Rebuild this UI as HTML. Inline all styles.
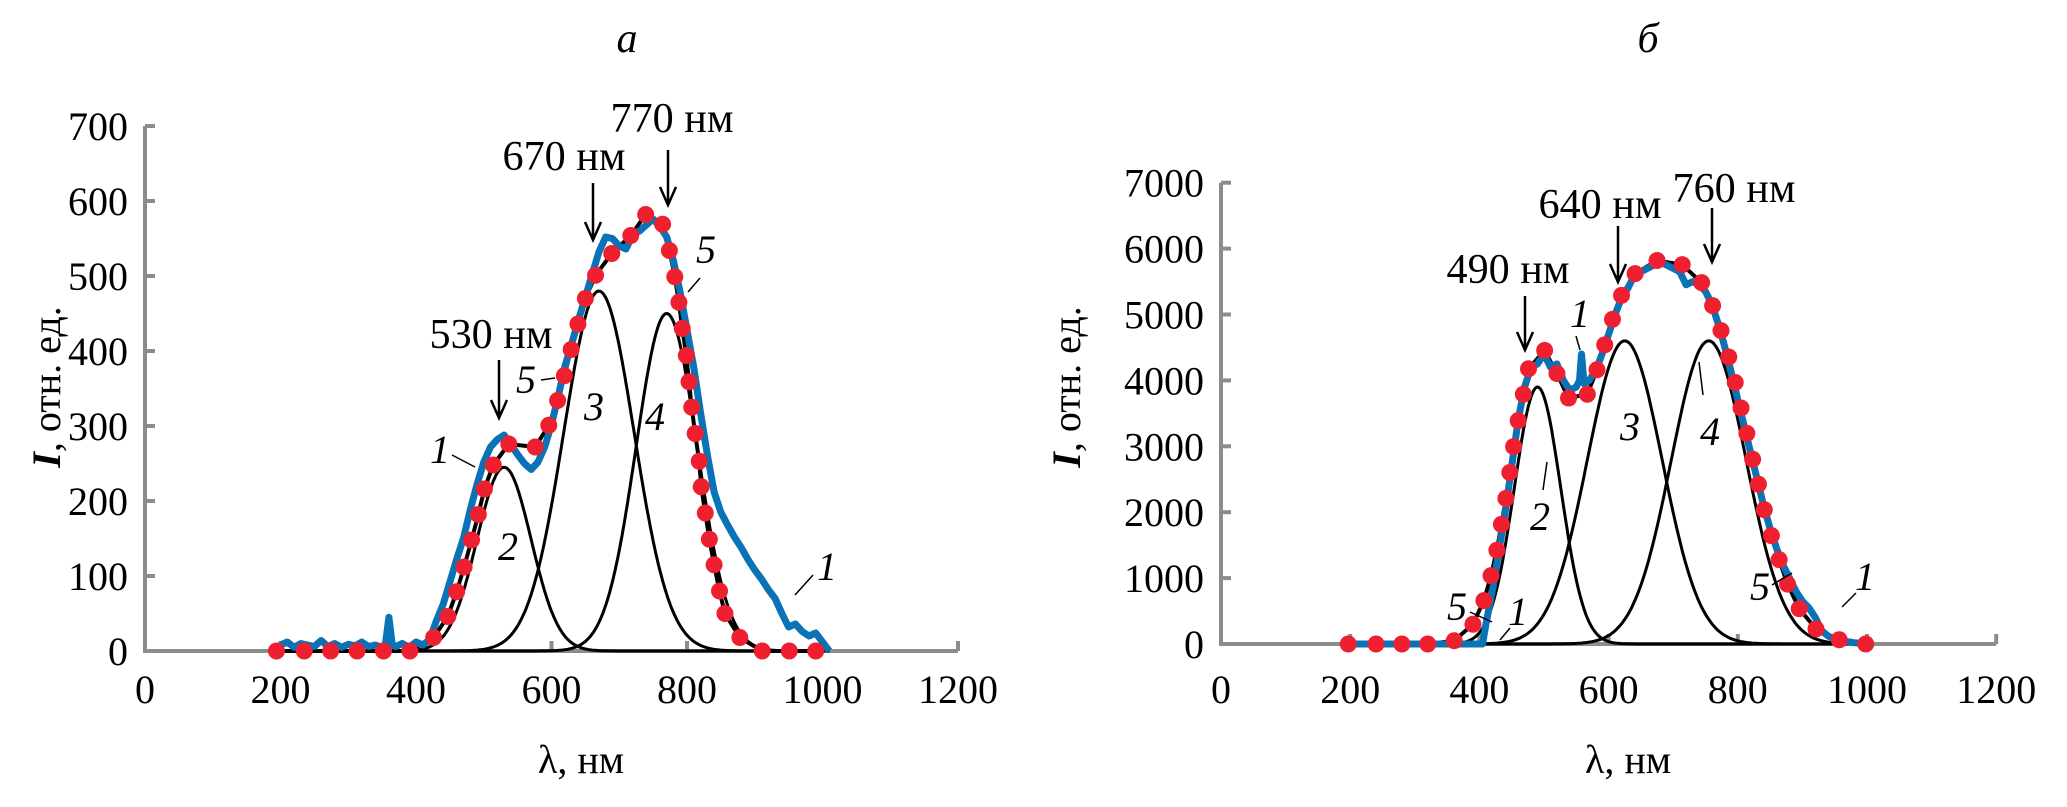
<!DOCTYPE html>
<html><head><meta charset="utf-8"><style>
html,body{margin:0;padding:0;background:#fff;}
svg{display:block;}
text{font-family:"Liberation Serif",serif;fill:#000;}
</style></head><body>
<svg id="fig" width="2067" height="807" viewBox="0 0 2067 807" xmlns="http://www.w3.org/2000/svg">
<g id="pa"></g>
<g id="pb"></g>
<g id="ann"></g>
</svg>
<script>
// ---------- Panel A data ----------
const aXTicks = [0,200,400,600,800,1000,1200];
const aYTicks = [0,100,200,300,400,500,600,700];
const aExpX = [200,210,220,230,240,250,260,270,280,290,300,310,320,330,340,350,355,360,365,370,380,390,400,410,420,430,440,450,460,470,480,490,500,510,520,530,540,550,560,570,580,590,600,610,620,630,640,650,660,670,680,690,700,710,720,730,740,750,760,770,780,790,800,810,820,830,840,850,860,870,880,890,900,910,920,930,940,950,960,970,980,990,1000,1010];
const aExpY = [8,12,5,10,8,6,14,6,10,5,9,7,12,6,8,5,10,45,8,6,10,5,12,8,15,40,62,92,122,150,188,222,252,272,282,288,275,262,250,242,252,272,302,340,380,410,442,472,502,532,552,550,540,536,556,560,568,576,566,552,520,478,428,378,318,262,212,185,168,152,138,122,108,96,82,70,50,32,36,26,20,24,12,0];
const aDotX = [194,235,274,313,352,391,426,447,460,471,482,492,501,514,537,576,596,609,619,629,639,650,665,689,717,739,764,774,782,788,793,799,803,807,812,818,821,827,833,840,848,856,878,911,951,990];
const aDotY = [0,0,0,0,0,0,18,46,79,112,148,182,216,248,276,272,301,334,367,402,436,470,501,530,554,582,569,534,499,465,430,394,359,325,290,253,219,184,149,115,80,50,18,0,0,0];
const aPeakCenters = [530,670,770];
const aPeakAmps = [245,480,450];
const aPeakWidths = [40,52,45];

// ---------- Panel B data ----------
const bXTicks = [0,200,400,600,800,1000,1200];
const bYTicks = [0,1000,2000,3000,4000,5000,6000,7000];
const bExpX = [200,250,300,350,400,405,410,420,430,440,450,460,470,480,490,500,510,520,530,540,550,555,558,562,570,580,590,600,610,620,630,640,650,660,670,680,690,700,710,720,730,740,750,760,770,780,790,800,810,820,830,840,850,860,870,880,890,900,910,920,930,940,950,960,980,1000,1010];
const bExpY = [0,0,0,0,0,0,300,800,1400,2000,2700,3400,3900,4200,4250,4400,4200,4250,4000,3850,3900,4000,4400,3950,4000,4150,4400,4700,5000,5250,5400,5600,5650,5700,5750,5800,5750,5700,5650,5450,5500,5450,5350,5150,4850,4500,4100,3700,3300,2900,2500,2100,1750,1450,1200,1000,800,650,550,400,200,120,80,50,20,0,0];
const bDotX = [197,240,280,320,361,390,407,418,427,434,441,447,453,460,468,476,501,520,538,567,582,594,606,620,641,675,714,744,761,774,786,796,805,814,823,832,841,852,864,877,895,921,957,998];
const bDotY = [0,0,0,0,50,300,658,1037,1423,1816,2209,2603,2996,3389,3790,4176,4455,4104,3732,3790,4162,4540,4927,5291,5620,5820,5756,5484,5134,4755,4355,3968,3582,3196,2803,2424,2038,1645,1280,908,536,229,64,0];
const bPeakCenters = [490,625,755];
const bPeakAmps = [3900,4600,4600];
const bPeakWidths = [36,58,58];

const NS = "http://www.w3.org/2000/svg";
function mk(parent, tag, attrs, txt){
  const e = document.createElementNS(NS, tag);
  for (const k in attrs) e.setAttribute(k, attrs[k]);
  if (txt !== undefined) e.textContent = txt;
  parent.appendChild(e);
  return e;
}

function drawPanel(g, cfg){
  const sx = v => cfg.x0 + v * cfg.kx;
  const sy = v => cfg.y0 - v * cfg.ky;
  const xMax = cfg.xTicks[cfg.xTicks.length-1], yMax = cfg.yTicks[cfg.yTicks.length-1];
  const ax = mk(g,'path',{d:`M${sx(0)},${sy(yMax)} L${sx(0)},${sy(0)} L${sx(xMax)},${sy(0)}`,fill:'none',stroke:'#8c8c8c','stroke-width':4});
  
  
  cfg.yTicks.forEach(v=>{
    const t = mk(g,'line',{x1:sx(0),x2:sx(0)+10,y1:sy(v),y2:sy(v),stroke:'#8c8c8c','stroke-width':4});
    
    
    const l = mk(g,'text',{x:sx(0)-17,y:sy(v)+14,'text-anchor':'end','font-size':40},String(v));
    
    
  });
  cfg.xTicks.forEach(v=>{
    const t = mk(g,'line',{x1:sx(v),x2:sx(v),y1:sy(0),y2:sy(0)-10,stroke:'#8c8c8c','stroke-width':4});
    
    
    const l = mk(g,'text',{x:sx(v),y:703,'text-anchor':'middle','font-size':40},String(v));
    
    
  });
  const comp = (i,x)=> cfg.amps[i]*Math.exp(-0.5*Math.pow((x-cfg.centers[i])/cfg.widths[i],2));
  for (let i=0;i<cfg.centers.length;i++){
    let d='';
    for (let x=200;x<=1010;x+=2){ d += (x===200?'M':'L')+sx(x).toFixed(1)+','+sy(comp(i,x)).toFixed(1); }
    const p = mk(g,'path',{d,fill:'none',stroke:'#000','stroke-width':3});
    
    
  }
  let ds='';
  cfg.dotX.forEach((x,i)=>{ ds += (i?'L':'M')+sx(x).toFixed(1)+','+sy(cfg.dotY[i]).toFixed(1); });
  const sum = mk(g,'path',{d:ds,fill:'none',stroke:'#000','stroke-width':4,'stroke-linejoin':'round'});
  
  
  let de='';
  cfg.expX.forEach((x,i)=>{ de += (i?'L':'M')+sx(x).toFixed(1)+','+sy(cfg.expY[i]).toFixed(1); });
  const ex = mk(g,'path',{d:de,fill:'none',stroke:'#0a73b5','stroke-width':7,'stroke-linejoin':'round'});
  
  
  cfg.dotX.forEach((x,i)=>{
    const c = mk(g,'circle',{cx:sx(x),cy:sy(cfg.dotY[i]),r:8.5,fill:'#ee2030'});
    
    
  });
}

drawPanel(document.getElementById('pa'),{x0:145,y0:651,kx:135.5/200,ky:0.75,xTicks:aXTicks,yTicks:aYTicks,expX:aExpX,expY:aExpY,dotX:aDotX,dotY:aDotY,centers:aPeakCenters,amps:aPeakAmps,widths:aPeakWidths});
drawPanel(document.getElementById('pb'),{x0:1221,y0:644,kx:129.2/200,ky:0.0659,xTicks:bXTicks,yTicks:bYTicks,expX:bExpX,expY:bExpY,dotX:bDotX,dotY:bDotY,centers:bPeakCenters,amps:bPeakAmps,widths:bPeakWidths});

// ---------- annotations ----------
const ann = document.getElementById('ann');
function txt(x,y,s,name,opt){
  const t = mk(ann,'text',Object.assign({x:x,y:y,'font-size':40},opt||{}),s);
  
  
  return t;
}
function arrow(x,y1,y2,name){
  const p = mk(ann,'path',{d:`M${x},${y1} L${x},${y2} M${x-8},${y2-18} L${x},${y2} L${x+8},${y2-18}`,fill:'none',stroke:'#000','stroke-width':2.5});
  
  
}
function leader(x1,y1,x2,y2,name){
  const l = mk(ann,'line',{x1,y1,x2,y2,stroke:'#000','stroke-width':1.5});
  
  
}
const it = {'font-style':'italic'};
const mid = {'text-anchor':'middle'};
const nm = {'text-anchor':'middle','font-size':42,textLength:123,lengthAdjust:'spacingAndGlyphs'};
txt(627,52,'а','panel-a-title',{'font-style':'italic','text-anchor':'middle','font-size':42});
txt(581,773,'λ, нм','panel-a-x-axis-title',mid);
txt(491,348,'530 нм','label-530nm',nm); arrow(499,360,418,'arrow-530nm');
txt(564,170,'670 нм','label-670nm',nm); arrow(593,183,240,'arrow-670nm');
txt(672,132,'770 нм','label-770nm',nm); arrow(668,150,205,'arrow-770nm');
txt(430,463,'1','curve-label-1',it); leader(452,455,475,467,'leader-1');
txt(498,560,'2','curve-label-2',it);
txt(584,420,'3','curve-label-3',it);
txt(645,430,'4','curve-label-4',it);
txt(696,263,'5','curve-label-5',it); leader(700,278,688,292,'leader-5');
txt(516,393,'5','curve-label-5b',it); leader(541,380,555,378,'leader-5b');
txt(817,580,'1','curve-label-1b',it); leader(813,575,795,595,'leader-1b');

txt(1648,52,'б','panel-b-title',{'font-style':'italic','text-anchor':'middle','font-size':42});
txt(1628,773,'λ, нм','panel-b-x-axis-title',mid);
txt(1508,283,'490 нм','label-490nm',nm); arrow(1525,296,350,'arrow-490nm');
txt(1600,218,'640 нм','label-640nm',nm); arrow(1618,226,282,'arrow-640nm');
txt(1734,202,'760 нм','label-760nm',nm); arrow(1712,208,262,'arrow-760nm');
txt(1570,327,'1','curve-label-1',it); leader(1576,336,1580,350,'leader-1');
txt(1530,530,'2','curve-label-2',it); leader(1547,462,1543,490,'leader-2');
txt(1620,440,'3','curve-label-3',it);
txt(1700,445,'4','curve-label-4',it); leader(1699,362,1703,395,'leader-4');
txt(1447,620,'5','curve-label-5',it); leader(1470,612,1492,622,'leader-5');
txt(1508,625,'1','curve-label-1b',it); leader(1510,628,1500,640,'leader-1b');
txt(1750,600,'5','curve-label-5b',it); leader(1772,585,1792,573,'leader-5b');
txt(1855,590,'1','curve-label-1c',it); leader(1856,593,1842,607,'leader-1c');

function ylab(x,name){
  const t = mk(ann,'text',{transform:`translate(${x},387) rotate(-90)`,'font-size':40,'text-anchor':'middle'});
  
  
  mk(t,'tspan',{'font-style':'italic','font-weight':'bold'},'I');
  mk(t,'tspan',{},', отн. ед.');
}
ylab(60,'panel-a-y-axis-title');
ylab(1080,'panel-b-y-axis-title');
</script>
</body></html>
